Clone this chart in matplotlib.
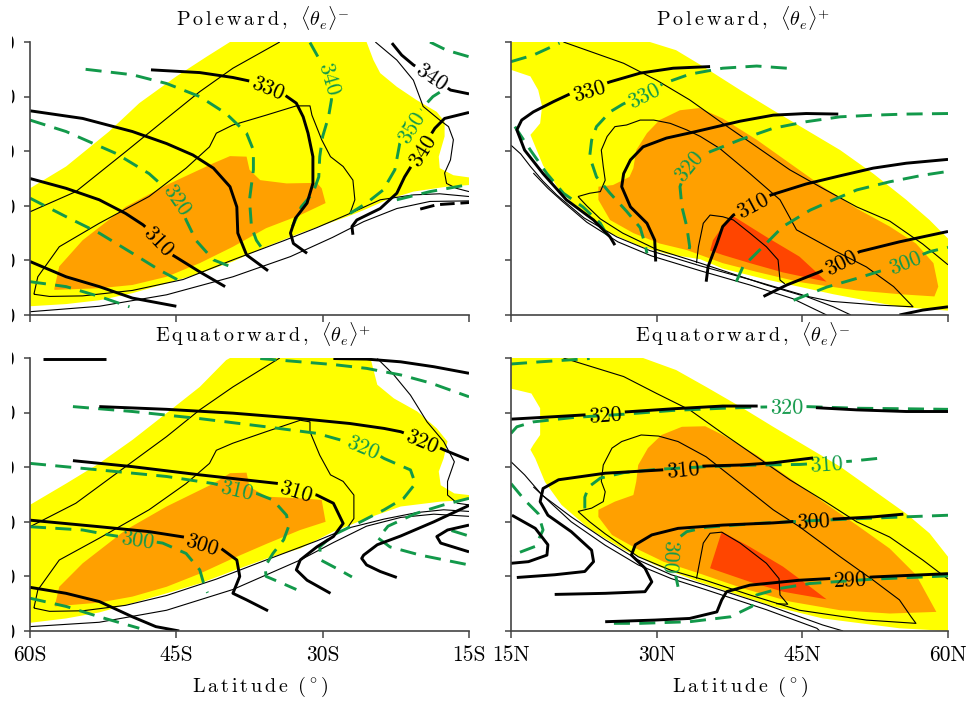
import numpy as np
import matplotlib
matplotlib.use("Agg")
import matplotlib.pyplot as plt
from matplotlib.patches import Rectangle

plt.rcParams["font.family"] = ["cmr10", "DejaVu Serif"]
plt.rcParams["mathtext.fontset"] = "cm"
plt.rcParams["axes.unicode_minus"] = False
plt.rcParams["axes.formatter.use_mathtext"] = True

# ---------------------------------------------------------------- axes data
LAT_S = [-60, -45, -30, -15]
LAT_S_LABELS = ["60S", "45S", "30S", "15S"]
LAT_N = [15, 30, 45, 60]
LAT_N_LABELS = ["15N", "30N", "45N", "60N"]
LEVELS = [1000, 900, 800, 700, 600, 500]
LEVEL_LABELS = ["1000", "900", "800", "700", "600", "500"]

TITLES = [
    r"$\mathrm{P\,o\,l\,e\,w\,a\,r\,d\,,}\;\;\langle\theta_e\rangle^{-}$",
    r"$\mathrm{P\,o\,l\,e\,w\,a\,r\,d\,,}\;\;\langle\theta_e\rangle^{+}$",
    r"$\mathrm{E\,q\,u\,a\,t\,o\,r\,w\,a\,r\,d\,,}\;\;\langle\theta_e\rangle^{+}$",
    r"$\mathrm{E\,q\,u\,a\,t\,o\,r\,w\,a\,r\,d\,,}\;\;\langle\theta_e\rangle^{-}$",
]
XLABEL = r"$\mathrm{L\,a\,t\,i\,t\,u\,d\,e}\;\;(\,^{\circ}\,)$"

# ------------------------------------------- poleward, <theta_e>^-  (SH)
A_yellow = [(-60, 768), (-56.3, 728), (-51.9, 664), (-48.8, 612), (-45.0, 563), (-41.9, 527),
            (-39.5, 500), (-25.5, 500), (-24.8, 533), (-24.1, 557), (-22.4, 582), (-20.4, 606),
            (-18.3, 628), (-17.5, 646), (-17.5, 673), (-18.1, 710), (-18.0, 731), (-16.6, 744),
            (-15, 748), (-15, 762), (-17.3, 765), (-20.7, 774), (-23.4, 789), (-25.8, 808),
            (-27.5, 820), (-28.9, 829), (-32.3, 850), (-35.8, 875), (-39.2, 902), (-42.6, 924),
            (-46.0, 942), (-49.5, 960), (-52.9, 973), (-56.3, 980), (-60, 984)]
A_orange = [(-57.5, 951), (-57.0, 911), (-54.6, 863), (-50.2, 802), (-46.0, 762), (-41.2, 722),
            (-39.5, 709), (-37.8, 710), (-37.5, 734), (-36.4, 753), (-33.7, 759), (-30.6, 758),
            (-30.1, 768), (-29.7, 795), (-32.3, 817), (-35.8, 841), (-39.2, 875), (-42.6, 905),
            (-46.0, 930), (-49.5, 945), (-52.9, 951), (-57.5, 954)]
A_thin1 = [(-60, 811), (-55.3, 774), (-50.2, 701), (-46.0, 640), (-42.6, 591), (-39.2, 548), (-34.4, 500)]
A_thin2 = [(-59.6, 962), (-59.2, 930), (-57.0, 875), (-52.9, 832), (-47.8, 783), (-44.0, 731),
           (-41.6, 692), (-40.9, 667), (-39.2, 652), (-35.8, 634), (-32.7, 617), (-31.3, 617),
           (-31.1, 634), (-30.1, 679), (-29.2, 710), (-27.9, 728), (-26.9, 753), (-26.7, 789),
           (-27.2, 814), (-30.6, 840), (-34.0, 864), (-39.2, 899), (-44.3, 935), (-49.5, 955),
           (-54.6, 965), (-58.0, 966), (-59.6, 962)]
A_thin3 = [(-60, 994), (-52.9, 984), (-46.0, 963), (-39.2, 930), (-33.3, 893), (-29.0, 858),
           (-25.8, 829), (-22.4, 805), (-19.0, 792), (-15, 791)]
A_thin4 = [(-27.2, 814), (-24.1, 789), (-20.7, 780), (-18.0, 778), (-15, 783)]
A_thin5 = [(-24.6, 500), (-22.4, 533), (-20.7, 570), (-19.7, 618), (-18.0, 643), (-17.1, 655),
           (-16.6, 679), (-16.9, 716), (-17.5, 740), (-17.3, 759), (-16.3, 768), (-15, 774)]
A_k330 = [(-47.6, 551), (-42.6, 556), (-39.2, 565), (-37.1, 573), (-35.6, 582), (-33.9, 597),
          (-32.7, 612), (-32.0, 637), (-31.5, 667), (-31.0, 710), (-31.0, 759), (-31.6, 795),
          (-32.8, 823), (-33.3, 850), (-33.0, 869), (-31.6, 887)]
A_k320 = [(-60, 626), (-54.6, 640), (-49.5, 664), (-46.0, 686), (-43.3, 707), (-41.2, 731),
          (-39.5, 765), (-38.8, 802), (-38.7, 850), (-37.8, 890), (-35.6, 919)]
A_k310 = [(-60, 750), (-56.3, 768), (-52.9, 789), (-50.2, 814), (-48.4, 835), (-46.7, 863),
          (-45.4, 890), (-42.6, 921), (-40.0, 948)]
A_k300 = [(-60, 902), (-56.3, 930), (-52.9, 948), (-49.5, 969), (-45.0, 984)]
A_k340a = [(-22.9, 502), (-21.9, 524), (-20.7, 542), (-18.8, 563), (-16.9, 588), (-15, 595)]
A_k340b = [(-26.9, 853), (-27.0, 838), (-26.5, 826), (-24.1, 805), (-22.4, 777), (-21.6, 747),
           (-19.9, 698), (-18.5, 658), (-17.5, 640), (-15, 629)]
A_kdash = [(-20.0, 806), (-18.3, 798), (-15, 794)]
A_g1 = [(-54.3, 550), (-49.5, 560), (-46.0, 576), (-42.6, 600), (-39.9, 631), (-37.8, 667),
        (-37.1, 698), (-37.1, 734), (-37.5, 789), (-37.3, 838), (-36.8, 863), (-36.1, 881)]
A_g320 = [(-60, 643), (-56.3, 664), (-51.2, 704), (-47.8, 741), (-44.8, 789), (-44.0, 826),
          (-43.0, 863), (-41.2, 899), (-39.5, 911)]
A_g3 = [(-60, 786), (-56.3, 820), (-52.9, 850), (-49.5, 887), (-46.7, 918), (-44.5, 939)]
A_g4 = [(-60, 939), (-56.3, 948), (-52.9, 966), (-49.8, 985)]
A_g340 = [(-31.3, 501), (-30.3, 533), (-29.2, 567), (-29.1, 606), (-29.4, 637), (-30.0, 673),
          (-30.3, 710), (-30.4, 747), (-31.0, 777), (-32.2, 802), (-33.1, 838)]
A_g350 = [(-18.0, 592), (-18.7, 600), (-20.0, 625), (-21.0, 655), (-22.1, 686), (-22.6, 734),
          (-23.8, 771), (-25.5, 795), (-27.2, 814)]
A_g7 = [(-19.0, 500), (-17.3, 515), (-15, 527)]
A_g8 = [(-22.4, 789), (-19.0, 774), (-15, 761)]

# ------------------------------------------- poleward, <theta_e>^+  (NH)
B_yellow = [(15.0, 500), (29.3, 500), (32.0, 515), (34.8, 545), (38.6, 588), (42.0, 625),
            (45.4, 661), (48.9, 698), (52.3, 741), (55.7, 789), (58.1, 826), (60.0, 860),
            (60.0, 992), (55.0, 985), (48.2, 962), (41.3, 935), (36.8, 915), (34.5, 898),
            (31.0, 888), (28.3, 874), (25.2, 850), (22.5, 815), (20.0, 772), (18.3, 726),
            (17.0, 670), (17.3, 664), (18.0, 649), (18.2, 618), (17.8, 588), (17.0, 563), (15.0, 551)]
B_orange = [(24.0, 765), (25.5, 762), (27.2, 747), (27.6, 731), (27.9, 698), (29.0, 667),
            (30.3, 643), (32.4, 625), (34.4, 621), (36.8, 640), (40.3, 679), (43.7, 722),
            (47.1, 765), (50.6, 805), (54.0, 838), (56.7, 869), (58.5, 905), (59.0, 948),
            (58.6, 966), (55.1, 962), (50.6, 955), (44.8, 940), (40.3, 921), (36.8, 905),
            (33.1, 881), (30.3, 869), (27.6, 850), (25.2, 826), (24.0, 789)]
B_red = [(37.7, 817), (41.3, 857), (44.7, 893), (47.5, 939), (43.0, 922), (39.6, 905),
         (36.8, 890), (35.5, 882), (35.8, 863), (36.8, 838)]
B_thin1 = [(20.4, 500), (26.6, 539), (30.0, 570), (33.4, 606), (36.8, 649), (40.3, 692),
           (43.7, 734), (47.1, 768), (50.6, 802), (54.0, 828), (57.4, 870), (60.0, 908)]
B_thin2 = [(21.9, 783), (23.1, 777), (24.2, 774), (24.7, 753), (24.5, 728), (24.3, 698),
           (24.9, 673), (25.7, 655), (26.9, 652), (28.3, 643), (29.7, 643), (31.4, 649),
           (33.1, 661), (34.5, 673), (36.5, 695), (39.6, 741), (42.7, 789), (44.4, 844),
           (48.2, 881), (51.6, 912), (54.4, 948), (56.4, 985), (53.0, 982), (48.0, 975),
           (44.7, 963), (41.3, 945), (37.9, 925), (34.5, 905), (30.0, 880), (26.5, 850),
           (24.2, 824), (22.8, 800), (21.9, 783)]
B_thin3 = [(15.0, 689), (16.0, 705), (17.0, 728), (18.3, 755), (19.7, 780), (22.5, 822),
           (25.9, 857), (29.3, 882), (34.5, 910), (39.6, 935), (44.8, 962), (48.2, 985), (50.0, 1000)]
B_thin4 = [(17.3, 740), (18.8, 768), (20.3, 792), (22.8, 830), (26.0, 866), (29.5, 892),
           (34.5, 919), (39.6, 945), (44.0, 970), (47.5, 1000)]
B_thin5 = [(34.1, 905), (34.3, 875), (34.8, 832), (35.5, 817), (36.8, 820), (37.9, 826),
           (39.6, 850), (41.3, 875), (42.5, 899), (42.7, 936), (43.2, 943)]
B_k330 = [(25.7, 872), (25.2, 857), (23.5, 826), (20.7, 789), (18.3, 741), (16.4, 698),
          (15.6, 661), (16.1, 643), (17.3, 628), (19.4, 609), (21.2, 594), (23.0, 587),
          (25.2, 573), (28.3, 557), (31.7, 548), (35.5, 545)]
B_k320 = [(29.9, 902), (29.8, 863), (29.0, 832), (27.3, 802), (26.4, 765), (26.6, 741),
          (27.3, 716), (28.6, 692), (31.0, 676), (33.8, 665), (38.6, 645), (42.0, 634),
          (45.4, 631), (48.7, 632)]
B_k310 = [(35.1, 939), (35.3, 911), (36.2, 869), (36.8, 838), (37.9, 817), (39.8, 797),
          (41.8, 780), (45.4, 760), (48.9, 745), (52.3, 731), (55.7, 722), (60.0, 715)]
B_k300 = [(41.0, 966), (43.4, 945), (46.8, 921), (48.9, 902), (50.9, 884), (55.0, 866), (60.0, 847)]
B_k290 = [(55.0, 1000), (57.4, 991), (60.0, 985)]
B_g1 = [(15.0, 536), (17.3, 524), (20.0, 502)]
B_g330 = [(43.4, 548), (40.3, 544), (36.8, 548), (33.4, 559), (30.7, 576), (28.6, 596),
          (26.5, 614), (25.2, 628), (23.8, 655), (23.3, 680), (23.1, 710), (23.8, 747),
          (25.2, 777), (26.9, 810), (28.3, 840), (28.8, 870), (29.0, 887)]
B_g3 = [(15.4, 655), (17.0, 698), (18.7, 741), (20.4, 777), (22.4, 802), (24.2, 832), (25.2, 863)]
B_g320 = [(60.0, 631), (55.7, 632), (52.3, 634), (48.9, 637), (45.4, 646), (42.0, 658),
          (38.6, 679), (35.5, 701), (33.2, 725), (32.4, 765), (32.6, 802), (33.1, 838),
          (33.4, 875), (33.2, 893)]
B_g6 = [(38.2, 939), (38.9, 911), (40.6, 881), (43.0, 838), (45.8, 808), (48.2, 789),
        (50.6, 771), (54.0, 756), (57.4, 744), (60.0, 737)]
B_g300 = [(44.1, 973), (47.5, 949), (50.6, 933), (53.3, 918), (55.5, 902), (58.1, 884), (60.0, 876)]

# --------------------------------------- equatorward, <theta_e>^+  (SH)
C_yellow = [(-60, 769), (-56.3, 730), (-52.9, 693), (-49.5, 650), (-46.0, 601), (-42.6, 553),
            (-39.9, 504), (-39.5, 500), (-25.1, 500), (-24.4, 549), (-22.7, 574), (-20.3, 598),
            (-18.3, 629), (-17.2, 653), (-17.6, 684), (-18.1, 708), (-17.9, 733), (-16.5, 748),
            (-15.0, 751), (-15.0, 760), (-17.9, 763), (-22.0, 772), (-25.5, 794), (-28.9, 818),
            (-32.3, 849), (-35.7, 867), (-39.2, 890), (-42.6, 913), (-46.0, 931), (-49.5, 949),
            (-52.9, 966), (-56.3, 977), (-60, 985)]
C_orange = [(-57.5, 957), (-57.0, 919), (-54.6, 876), (-50.2, 815), (-46.0, 772), (-41.2, 730),
            (-39.5, 711), (-37.8, 710), (-37.5, 736), (-35.7, 754), (-32.3, 757), (-30.1, 760),
            (-29.7, 800), (-32.3, 815), (-35.7, 840), (-39.2, 867), (-42.6, 895), (-46.0, 919),
            (-49.5, 937), (-52.9, 948), (-57.5, 955)]
C_thin1 = [(-60, 809), (-55.3, 766), (-50.2, 699), (-46.0, 644), (-42.6, 595), (-39.2, 553), (-34.4, 500)]
C_thin2 = [(-59.6, 958), (-59.2, 925), (-57.0, 870), (-52.9, 830), (-47.8, 778), (-44.0, 730),
           (-41.6, 693), (-40.9, 669), (-39.2, 656), (-35.8, 635), (-32.3, 614), (-31.3, 617),
           (-31.3, 635), (-30.3, 678), (-29.2, 714), (-27.9, 726), (-26.8, 751), (-26.8, 794),
           (-27.5, 812), (-30.6, 835), (-35.8, 870), (-40.9, 905), (-46.0, 935), (-50.2, 953),
           (-54.6, 963), (-58.0, 964), (-59.6, 958)]
C_thin3 = [(-60, 992), (-52.9, 984), (-46.0, 962), (-39.2, 924), (-32.3, 870), (-28.9, 838),
           (-25.5, 808), (-22.0, 792), (-18.6, 786), (-15, 790)]
C_thin4 = [(-27.5, 812), (-23.7, 795), (-20.3, 783), (-17.6, 778), (-15, 781)]
C_thin5 = [(-24.4, 501), (-22.7, 531), (-21.0, 568), (-19.3, 617), (-17.6, 653), (-16.5, 690),
           (-17.2, 726), (-17.2, 751), (-16.2, 766), (-15, 769)]
C_k_top1 = [(-58.7, 502), (-52.2, 502)]
C_k_top2 = [(-28.9, 501), (-25.5, 502), (-22.0, 507), (-18.6, 516), (-15, 528)]
C_k320 = [(-52.9, 589), (-46.0, 594), (-39.2, 601), (-32.3, 611), (-27.2, 620), (-23.7, 629),
          (-22.0, 635), (-19.8, 650), (-17.6, 668), (-15, 687)]
C_k310 = [(-55.6, 688), (-49.5, 699), (-42.6, 714), (-34.5, 730), (-32.7, 742), (-30.6, 751),
          (-28.9, 766), (-27.9, 803), (-28.9, 827), (-30.6, 846), (-32.3, 870), (-32.7, 888),
          (-31.6, 907), (-29.2, 931)]
C_k300 = [(-60, 797), (-52.9, 809), (-47.8, 818), (-44.2, 828), (-42.3, 839), (-40.4, 849),
          (-38.8, 870), (-38.5, 900), (-39.2, 931), (-37.8, 943), (-35.6, 963)]
C_k290 = [(-60, 920), (-56.3, 931), (-52.9, 946), (-49.5, 974), (-47.1, 992), (-44.7, 1000)]
C_kchev1 = [(-15, 770), (-18.6, 800), (-22.0, 826), (-24.4, 842), (-25.8, 861), (-26.0, 867),
            (-25.5, 879), (-24.1, 891), (-22.4, 902)]
C_kchev2 = [(-15, 806), (-17.2, 815), (-18.3, 827), (-17.9, 839), (-15, 855)]
C_g1 = [(-36.4, 501), (-32.3, 507), (-28.9, 512), (-25.5, 519), (-22.0, 531), (-18.9, 546), (-15, 571)]
C_g320 = [(-55.6, 589), (-49.5, 598), (-42.6, 611), (-35.8, 626), (-30.6, 638), (-25.8, 662),
          (-23.7, 684), (-21.0, 705), (-20.5, 730), (-21.7, 757), (-23.7, 778), (-26.1, 800),
          (-28.9, 824), (-30.3, 846), (-30.2, 870), (-28.4, 887), (-27.0, 901)]
C_g310 = [(-60, 693), (-52.9, 705), (-46.0, 717), (-41.2, 730), (-38.8, 741), (-36.8, 748),
          (-35.1, 760), (-33.7, 788), (-33.5, 809), (-34.0, 833), (-35.1, 858), (-35.9, 882),
          (-35.8, 900), (-34.1, 913), (-32.7, 924)]
C_g300 = [(-60, 809), (-54.6, 815), (-51.9, 824), (-49.0, 832), (-46.4, 839), (-44.0, 858),
          (-42.6, 888), (-42.1, 919), (-41.8, 930)]
C_g4 = [(-60, 940), (-56.3, 955), (-52.9, 974), (-48.8, 995)]
C_g6 = [(-15, 757), (-17.6, 769), (-20.5, 785), (-23.3, 808), (-24.3, 830), (-23.1, 846),
        (-20.0, 861), (-15, 879)]
C_g7 = [(-16.8, 816), (-15, 826)]

# --------------------------------------- equatorward, <theta_e>^-  (NH)
D_yellow = [(15.0, 500), (28.6, 500), (32.0, 522), (35.1, 553), (38.6, 589), (42.0, 626),
            (45.4, 662), (48.9, 699), (52.3, 742), (55.7, 785), (58.1, 821), (60.0, 864),
            (60.0, 1000), (55.0, 995), (47.1, 977), (42.0, 955), (37.9, 931), (34.3, 910),
            (29.8, 879), (26.4, 849), (23.0, 812), (20.2, 769), (18.5, 727), (17.5, 684),
            (17.0, 668), (17.3, 659), (18.0, 641), (18.0, 592), (17.1, 565), (15.0, 556)]
D_orange = [(24.0, 778), (25.7, 763), (27.6, 751), (27.9, 726), (28.1, 696), (29.1, 665),
            (30.5, 641), (32.6, 626), (35.0, 625), (36.8, 641), (40.3, 678), (43.7, 720),
            (47.1, 763), (50.6, 806), (54.0, 849), (56.7, 897), (58.8, 965), (54.0, 968),
            (48.9, 962), (43.7, 946), (38.9, 922), (34.8, 897), (30.7, 873), (27.9, 849),
            (25.4, 824), (24.0, 791)]
D_red = [(36.7, 818), (39.6, 846), (43.0, 882), (45.8, 919), (47.5, 942), (43.0, 928),
         (39.6, 910), (35.5, 885), (36.2, 846)]
D_thin1 = [(20.4, 500), (26.6, 534), (30.0, 565), (33.4, 595), (36.8, 638), (40.3, 681),
           (43.7, 723), (47.1, 760), (50.6, 800), (54.0, 828), (57.4, 870), (60.0, 905)]
D_thin2 = [(21.9, 781), (23.3, 775), (24.5, 763), (24.7, 745), (24.3, 726), (24.5, 696),
           (25.4, 665), (26.4, 653), (28.4, 641), (30.2, 643), (32.2, 653), (35.1, 681),
           (38.6, 730), (42.0, 778), (44.7, 809), (48.9, 864), (52.3, 907), (55.0, 943),
           (56.2, 974), (56.7, 986), (51.6, 980), (44.7, 962), (39.6, 934), (35.0, 907),
           (31.5, 889), (28.1, 864), (24.7, 822), (23.1, 800), (21.9, 781)]
D_thin3 = [(15.0, 690), (16.4, 714), (18.2, 751), (21.2, 791), (24.7, 833), (28.1, 870),
           (31.5, 897), (35.0, 916), (41.3, 952), (47.1, 989), (49.2, 1000)]
D_thin4 = [(17.3, 736), (21.2, 800), (24.7, 843), (28.1, 879), (31.5, 904), (35.0, 924),
           (41.3, 961), (46.5, 995), (46.8, 1000)]
D_thin5 = [(34.1, 904), (34.4, 876), (34.8, 839), (35.5, 821), (36.7, 819), (38.6, 839),
           (41.3, 876), (42.6, 904), (42.7, 934), (43.5, 951), (42.3, 950)]
D_k320_w = [(15.0, 612), (18.0, 609), (22.8, 604), (24.7, 602), (26.6, 599), (31.7, 593),
            (36.8, 588), (40.4, 588)]
D_k320_e = [(46.4, 591), (50.6, 595), (55.7, 598), (60.0, 598)]
D_k310 = [(15.6, 902), (19.5, 897), (22.6, 891), (23.5, 873), (23.3, 852), (21.2, 818),
          (18.8, 788), (18.0, 763), (18.3, 739), (19.9, 723), (24.7, 711), (30.5, 705),
          (32.7, 702), (34.8, 698), (38.6, 696), (42.0, 692), (46.1, 683)]
D_k300 = [(19.5, 933), (24.7, 931), (28.8, 928), (29.5, 910), (28.8, 885), (27.4, 861),
          (27.8, 842), (29.5, 824), (32.2, 812), (36.8, 806), (42.0, 802), (46.1, 797),
          (48.2, 795), (52.3, 791), (55.4, 786)]
D_k290 = [(24.7, 983), (29.8, 980), (33.4, 977), (36.2, 965), (36.7, 943), (37.2, 928),
          (39.6, 916), (44.7, 907), (47.8, 904), (49.9, 904), (52.3, 901), (60.0, 895)]
D_kchev = [(15.1, 788), (17.5, 812), (18.8, 842), (18.7, 861), (16.8, 873), (15.0, 876)]
D_g1 = [(15.0, 511), (18.0, 507), (23.1, 501)]
D_g320 = [(15.0, 638), (15.6, 626), (17.3, 617), (21.4, 609), (26.6, 603), (31.7, 596),
          (36.8, 592), (40.3, 590), (43.4, 589), (45.4, 589), (50.6, 592), (55.7, 593), (60.0, 594)]
D_g310 = [(52.7, 684), (50.0, 689), (47.5, 692), (44.7, 695), (40.3, 696), (35.1, 699),
          (30.0, 704), (26.6, 710), (24.2, 720), (23.0, 736), (22.6, 755), (22.6, 780)]
D_g300 = [(60.0, 788), (54.0, 792), (47.1, 797), (40.3, 803), (35.1, 810), (33.1, 818),
          (32.0, 833), (31.5, 864), (31.9, 894), (32.2, 919)]
D_g290 = [(60.0, 899), (52.3, 905), (45.8, 913), (42.7, 922), (40.3, 934), (39.8, 955),
          (37.6, 974), (33.4, 983), (28.3, 986), (24.7, 986)]
D_g6 = [(15.0, 730), (16.4, 760), (17.8, 785), (18.3, 815), (17.5, 845), (15.0, 862)]

# ------------------------------------------------------------------ style
YELLOW = "#ffff00"
ORANGE = "#ffa000"
RED = "#ff4500"
GREEN = "#12994a"
SPINE = "#444444"
THICK, THIN = 2.1, 0.8
LABEL_FS = 16
TICK_FS = 15.5
TITLE_FS = 14.5

W, H = 971, 701
fig = plt.figure(figsize=(W / 100, H / 100), dpi=100)

PANELS = [
    dict(rect=(30, 42, 439, 273), xt=LAT_S, xl=None, yl=LEVEL_LABELS, title=TITLES[0],
         fills=[(A_yellow, YELLOW), (A_orange, ORANGE)],
         thin=[A_thin1, A_thin2, A_thin3, A_thin4, A_thin5],
         green=[(A_g1, None, None), (A_g320, "320", (-44.8, 789)), (A_g3, None, None),
                (A_g4, None, None), (A_g340, "340", (-29.2, 567)), (A_g350, "350", (-21.0, 655)),
                (A_g7, None, None), (A_g8, None, None)],
         thick=[(A_k330, "330", (-35.6, 582)), (A_k320, None, None), (A_k310, "310", (-46.7, 863)),
                (A_k300, None, None), (A_k340a, "340", (-18.8, 563)), (A_k340b, "340", (-19.9, 698))],
         dashed=[A_kdash]),
    dict(rect=(511, 42, 437, 273), xt=LAT_N, xl=None, yl=None, title=TITLES[1],
         fills=[(B_yellow, YELLOW), (B_orange, ORANGE), (B_red, RED)],
         thin=[B_thin1, B_thin2, B_thin3, B_thin4, B_thin5],
         green=[(B_g1, None, None), (B_g330, "330", (28.6, 596)), (B_g3, None, None),
                (B_g320, "320", (33.2, 725)), (B_g6, None, None), (B_g300, "300", (55.5, 902))],
         thick=[(B_k330, "330", (23.0, 587)), (B_k320, None, None), (B_k310, "310", (39.8, 797)),
                (B_k300, "300", (48.9, 902)), (B_k290, None, None)],
         dashed=[]),
    dict(rect=(30, 358, 439, 273), xt=LAT_S, xl=LAT_S_LABELS, yl=LEVEL_LABELS, title=TITLES[2],
         fills=[(C_yellow, YELLOW), (C_orange, ORANGE)],
         thin=[C_thin1, C_thin2, C_thin3, C_thin4, C_thin5],
         green=[(C_g1, None, None), (C_g320, "320", (-25.8, 662)), (C_g310, "310", (-38.8, 741)),
                (C_g300, "300", (-49.0, 832)), (C_g4, None, None), (C_g6, None, None),
                (C_g7, None, None)],
         thick=[(C_k_top1, None, None), (C_k_top2, None, None), (C_k320, "320", (-19.8, 650)),
                (C_k310, "310", (-32.7, 742)), (C_k300, "300", (-42.3, 839)), (C_k290, None, None),
                (C_kchev1, None, None), (C_kchev2, None, None)],
         dashed=[]),
    dict(rect=(511, 358, 437, 273), xt=LAT_N, xl=LAT_N_LABELS, yl=None, title=TITLES[3],
         fills=[(D_yellow, YELLOW), (D_orange, ORANGE), (D_red, RED)],
         thin=[D_thin1, D_thin2, D_thin3, D_thin4, D_thin5],
         green=[(D_g1, None, None), (D_g320, "320", (43.4, 589)), (D_g310, "310", (47.5, 692)),
                (D_g300, "300", (31.5, 864)), (D_g290, None, None), (D_g6, None, None)],
         thick=[(D_k320_w, "320", (24.7, 602)), (D_k320_e, None, None), (D_k310, "310", (32.7, 702)),
                (D_k300, "300", (46.1, 798)), (D_k290, "290", (49.9, 904)), (D_kchev, None, None)],
         dashed=[]),
]


def draw_contour(ax, pts, color, lw, z, dashes=None, label=None, lpos=None):
    """Polyline with an optional inline label that breaks the line."""
    xy = np.asarray(pts, dtype=float)
    kw = dict(color=color, lw=lw, zorder=z, solid_capstyle="butt", dash_capstyle="butt",
              solid_joinstyle="round")
    if dashes is not None:
        kw["dashes"] = dashes
    if label is None:
        ax.plot(xy[:, 0], xy[:, 1], **kw)
        return
    disp = ax.transData.transform(xy)
    seg = np.diff(disp, axis=0)
    seglen = np.hypot(seg[:, 0], seg[:, 1])
    cum = np.concatenate([[0.0], np.cumsum(seglen)])
    tgt = ax.transData.transform(lpos)
    best = (np.inf, 0, 0.0)
    for i, d in enumerate(seg):
        L2 = float(d @ d)
        t = 0.0 if L2 == 0 else float(np.clip((tgt - disp[i]) @ d / L2, 0, 1))
        dist = np.hypot(*(disp[i] + t * d - tgt))
        if dist < best[0]:
            best = (dist, i, t)
    _, i, t = best
    s0 = cum[i] + t * seglen[i]
    txt = ax.text(0, 0, label, fontsize=LABEL_FS, color=color, ha="center",
                  va="center_baseline", rotation_mode="anchor", zorder=z + 0.5)
    width = txt.get_window_extent(fig.canvas.get_renderer()).width
    half = width / 2 + 3

    def at(s):
        return np.array([np.interp(s, cum, disp[:, 0]), np.interp(s, cum, disp[:, 1])])

    a, b = max(s0 - half, 0.0), min(s0 + half, cum[-1])
    p1, p2 = at(a), at(b)
    ang = np.degrees(np.arctan2(p2[1] - p1[1], p2[0] - p1[0]))
    # near-vertical labels read downwards
    if ang > 80:
        ang -= 180
    elif ang < -100:
        ang += 180
    inv = ax.transData.inverted()
    txt.set_position(inv.transform(at(s0)))
    txt.set_rotation(ang)
    head = [disp[j] for j in range(len(cum)) if cum[j] < a] + [p1]
    tail = [p2] + [disp[j] for j in range(len(cum)) if cum[j] > b]
    for part in (head, tail):
        if len(part) >= 2:
            dxy = inv.transform(np.array(part))
            ax.plot(dxy[:, 0], dxy[:, 1], **kw)


for k, P in enumerate(PANELS):
    x0, y0, w, h = P["rect"]
    ax = fig.add_axes([x0 / W, 1 - (y0 + h) / H, w / W, h / H])
    ax.set_xlim(P["xt"][0], P["xt"][-1])
    ax.set_ylim(1000, 500)
    for s in ("top", "right"):
        ax.spines[s].set_visible(False)
    for s in ("left", "bottom"):
        ax.spines[s].set_color(SPINE)
        ax.spines[s].set_linewidth(1.2)
        ax.spines[s].set_zorder(6)
    ax.set_xticks(P["xt"])
    ax.set_xticklabels(P["xl"] if P["xl"] else [])
    ax.set_yticks(LEVELS)
    ax.set_yticklabels(P["yl"] if P["yl"] else [])
    ax.tick_params(axis="x", direction="out", length=5, width=1.1, color=SPINE,
                   labelsize=TICK_FS, pad=5.5)
    ax.tick_params(axis="y", direction="out", length=4, width=1.1, color=SPINE,
                   labelsize=TICK_FS, pad=6.5)

    for z, (poly, col) in enumerate(P["fills"]):
        xy = np.asarray(poly, dtype=float)
        ax.fill(xy[:, 0], xy[:, 1], color=col, lw=0, zorder=1 + 0.1 * z)
    for line in P["thin"]:
        draw_contour(ax, line, "black", THIN, 2)
    for line, lab, lpos in P["green"]:
        draw_contour(ax, line, GREEN, THICK, 3, dashes=(5.5, 3.2), label=lab, lpos=lpos)
    for line, lab, lpos in P["thick"]:
        draw_contour(ax, line, "black", THICK, 4, label=lab, lpos=lpos)
    for line in P["dashed"]:
        draw_contour(ax, line, "black", THICK, 4, dashes=(5, 2))

    ax.text(0.53, 1 + 16 / h, P["title"], transform=ax.transAxes, ha="center",
            va="baseline", fontsize=TITLE_FS)
    if P["xl"]:
        ax.text(0.525, -61 / h, XLABEL, transform=ax.transAxes, ha="center",
                va="baseline", fontsize=TITLE_FS)

# left margin strip (trims the level labels to the page edge)
fig.add_artist(Rectangle((0, 0), 12 / W, 1, transform=fig.transFigure,
                         facecolor="white", edgecolor="none", zorder=50))

fig.savefig("out.png", dpi=100)
